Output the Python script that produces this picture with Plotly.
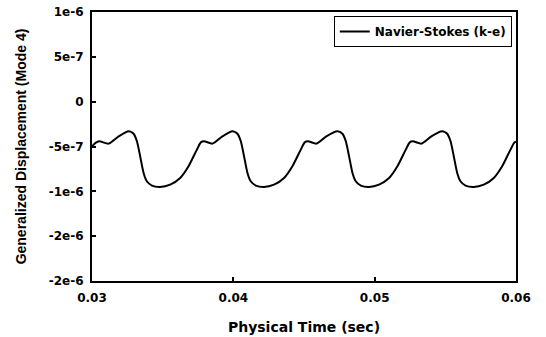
import plotly.graph_objects as go

time_s = [
    0.03000, 0.03025, 0.03052, 0.03118, 0.03189,
    0.03259, 0.03294, 0.03318, 0.03341, 0.03365, 0.03388, 0.03424, 0.03482, 0.03553,
    0.03624, 0.03683, 0.03742, 0.03770, 0.03793, 0.03853, 0.03923,
    0.03994, 0.04029, 0.04053, 0.04076, 0.04100, 0.04123, 0.04159, 0.04217, 0.04288,
    0.04359, 0.04418, 0.04477, 0.04505, 0.04528, 0.04588, 0.04658,
    0.04737, 0.04772, 0.04796, 0.04819, 0.04843, 0.04866, 0.04902, 0.04960, 0.05031,
    0.05102, 0.05161, 0.05220, 0.05248, 0.05271, 0.05331, 0.05401,
    0.05478, 0.05513, 0.05537, 0.05560, 0.05584, 0.05607, 0.05643, 0.05701, 0.05772,
    0.05843, 0.05902, 0.05961, 0.05989, 0.06000,
]
displacement = [
    -4.98e-7, -4.6e-7, -4.42e-7, -4.68e-7, -3.87e-7,
    -3.31e-7, -3.57e-7, -4.42e-7, -6.1e-7, -7.95e-7, -8.88e-7, -9.36e-7, -9.51e-7, -9.25e-7,
    -8.51e-7, -7.21e-7, -5.35e-7, -4.54e-7, -4.42e-7, -4.68e-7, -3.87e-7,
    -3.31e-7, -3.57e-7, -4.42e-7, -6.1e-7, -7.95e-7, -8.88e-7, -9.36e-7, -9.51e-7, -9.25e-7,
    -8.51e-7, -7.21e-7, -5.35e-7, -4.54e-7, -4.42e-7, -4.68e-7, -3.87e-7,
    -3.31e-7, -3.57e-7, -4.42e-7, -6.1e-7, -7.95e-7, -8.88e-7, -9.36e-7, -9.51e-7, -9.25e-7,
    -8.51e-7, -7.21e-7, -5.35e-7, -4.54e-7, -4.42e-7, -4.68e-7, -3.87e-7,
    -3.31e-7, -3.57e-7, -4.42e-7, -6.1e-7, -7.95e-7, -8.88e-7, -9.36e-7, -9.51e-7, -9.25e-7,
    -8.51e-7, -7.21e-7, -5.35e-7, -4.54e-7, -4.45e-7,
]

x_tickvals = [0.03, 0.04, 0.05, 0.06]
x_ticktext = ["0.03", "0.04", "0.05", "0.06"]
y_tickvals = [1e-6, 5e-7, 0, -5e-7, -1e-6, -1.5e-6, -2e-6]
y_ticktext = ["1e-6", "5e-7", "0", "-5e-7", "-1e-6", "-2e-6", "-2e-6"]

wide_font = "DejaVu Sans, sans-serif"
arial_font = "Liberation Sans, Arial, sans-serif"

fig = go.Figure()
fig.add_trace(go.Scatter(
    x=time_s, y=displacement, mode="lines",
    name="<b>Navier-Stokes (k-e)</b>",
    line=dict(color="black", width=2, shape="spline", smoothing=0.6),
))

fig.update_layout(
    width=546, height=337,
    margin=dict(l=92, r=30, t=12, b=56),
    paper_bgcolor="white", plot_bgcolor="white",
    font=dict(family=wide_font, size=12, color="black"),
    showlegend=True,
    legend=dict(
        x=0.99, y=0.985, xanchor="right", yanchor="top",
        bordercolor="black", borderwidth=1, bgcolor="white",
        font=dict(size=12, family=wide_font, color="black"),
    ),
    xaxis=dict(
        range=[0.03, 0.06], tickvals=x_tickvals,
        ticktext=["<b>%s</b>" % t for t in x_ticktext],
        ticks="inside", ticklen=4, tickcolor="black", tickwidth=1.5,
        showline=True, linecolor="black", linewidth=2, mirror=True,
        showgrid=False, zeroline=False, ticklabelstandoff=5, automargin=False,
        tickfont=dict(size=12, family=wide_font, color="black"),
        title=dict(text="<b>Physical Time (sec)</b>",
                   font=dict(size=14, family=wide_font, color="black"), standoff=18),
    ),
    yaxis=dict(
        range=[-2e-6, 1e-6], tickvals=y_tickvals,
        ticktext=["<b>%s</b>" % t for t in y_ticktext],
        ticks="inside", ticklen=4, tickcolor="black", tickwidth=1.5,
        showline=True, linecolor="black", linewidth=2, mirror=True,
        showgrid=False, zeroline=False, ticklabelstandoff=4, automargin=False,
        tickfont=dict(size=12, family=wide_font, color="black"),
        title=dict(text="<b>Generalized Displacement (Mode 4)</b>",
                   font=dict(size=14, family=arial_font, color="black"), standoff=19),
    ),
)

fig.write_html("out.html")
